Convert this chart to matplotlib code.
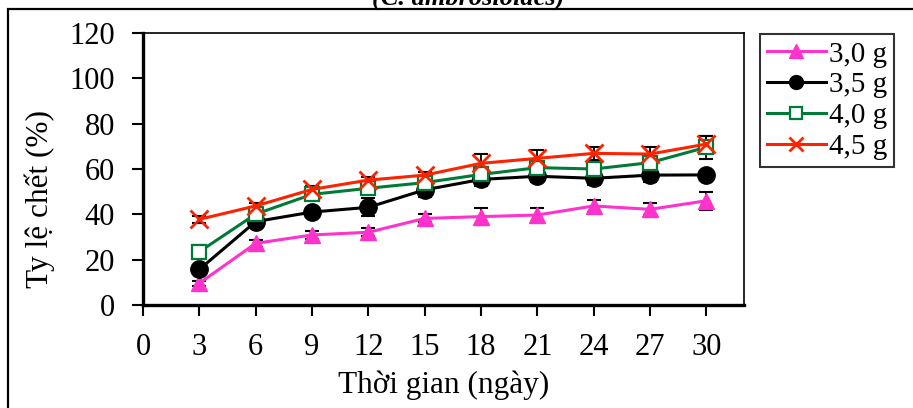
import numpy as np
import matplotlib
matplotlib.use("Agg")
import matplotlib.pyplot as plt
from matplotlib.patches import Rectangle

plt.rcParams['font.family'] = ['Liberation Serif', 'DejaVu Serif']

days = [3, 6, 9, 12, 15, 18, 21, 24, 27, 30]

# ty le chet (%) theo lieu luong
y30 = [9.6, 27.2, 30.9, 32.1, 38.2, 39.0, 39.7, 43.7, 42.2, 46.0]
e30 = [1.0, 1.5, 1.8, 1.8, 1.8, 3.9, 3.0, 2.6, 2.6, 4.0]
y35 = [15.7, 36.8, 41.0, 43.1, 50.8, 55.4, 56.8, 55.9, 57.3, 57.4]
e35 = [2.0, 2.0, 2.0, 4.0, 3.0, 3.0, 2.5, 3.0, 3.0, 1.0]
y40 = [23.5, 40.1, 48.8, 51.5, 54.0, 57.6, 60.6, 60.0, 62.8, 69.6]
e40 = [3.0, 2.0, 2.0, 2.0, 2.0, 2.5, 3.0, 3.0, 3.0, 5.0]
y45 = [37.8, 43.7, 51.0, 55.1, 57.3, 62.5, 64.7, 66.9, 66.6, 71.0]
e45 = [1.5, 1.5, 1.5, 1.5, 1.5, 4.0, 3.5, 3.0, 3.0, 3.5]

labels = ['3,0 g', '3,5 g', '4,0 g', '4,5 g']
xticks = [0, 3, 6, 9, 12, 15, 18, 21, 24, 27, 30]
yticks = [0, 20, 40, 60, 80, 100, 120]

W, H = 913, 408
fig = plt.figure(figsize=(W / 100, H / 100), dpi=100)
ax = fig.add_axes([143 / W, (H - 305) / H, (744 - 143) / W, (305 - 33) / H])

styles = [
    dict(color='#FF33CC', marker='^', ms=12, mfc='#FF33CC', mec='#FF33CC'),
    dict(color='black', marker='o', ms=12.5, mfc='black', mec='black'),
    dict(color='#007A37', marker='s', ms=10.5, mfc='white', mec='#007A37', mew=1.6),
    dict(color='#FF2200', marker='x', ms=12.5, mew=2.0),
]
series = [(y30, e30), (y35, e35), (y40, e40), (y45, e45)]

handles = []
for (yv, ev), st, lab in zip(series, styles, labels):
    ax.errorbar(days, yv, yerr=ev, fmt='none', ecolor='black',
                elinewidth=1.3, capsize=5, capthick=1.5, zorder=2)
    h, = ax.plot(days, yv, lw=2.2, label=lab, zorder=3, **st)
    handles.append(h)

ax.set_xlim(0, 32)
ax.set_ylim(0, 120)
ax.set_xticks(xticks)
ax.set_yticks(yticks)
ax.tick_params(axis='both', labelsize=22, direction='out', width=1.5,
               length=8, pad=12)

for s in ['left', 'bottom']:
    ax.spines[s].set_linewidth(2.4)
for s in ['top', 'right']:
    ax.spines[s].set_linewidth(1.2)

ax.set_ylabel('Ty lệ chết (%)', fontsize=22.5)
ax.yaxis.set_label_coords((40 - 143) / 601, 0.39)
ax.set_xlabel('Thời gian (ngày)', fontsize=22.5)
ax.xaxis.set_label_coords(0.5, (305 - 385) / 272)
ax.xaxis.label.set_va('center')
ax.yaxis.label.set_va('center')

leg = fig.legend(handles=handles, loc='upper left',
                 bbox_to_anchor=(760 / W, 1 - 34 / H), fontsize=21,
                 frameon=True, fancybox=False, edgecolor='black',
                 handlelength=2.0, handletextpad=0.1, labelspacing=0.15,
                 borderpad=0.25, borderaxespad=0, markerscale=0.8)
leg.get_frame().set_linewidth(1.5)

# khung ngoai cua hinh
fig.patches.append(Rectangle((8 / W, -0.1), 1.2, 1.1 - 9 / H,
                             transform=fig.transFigure, fill=False,
                             edgecolor='black', lw=1.6, clip_on=False))

fig.text(468 / W, 1 - 5 / H, '(C. ambrosioides)', ha='center', va='baseline',
         fontsize=19, fontweight='bold', fontstyle='italic')

fig.savefig('out.png', dpi=100)
